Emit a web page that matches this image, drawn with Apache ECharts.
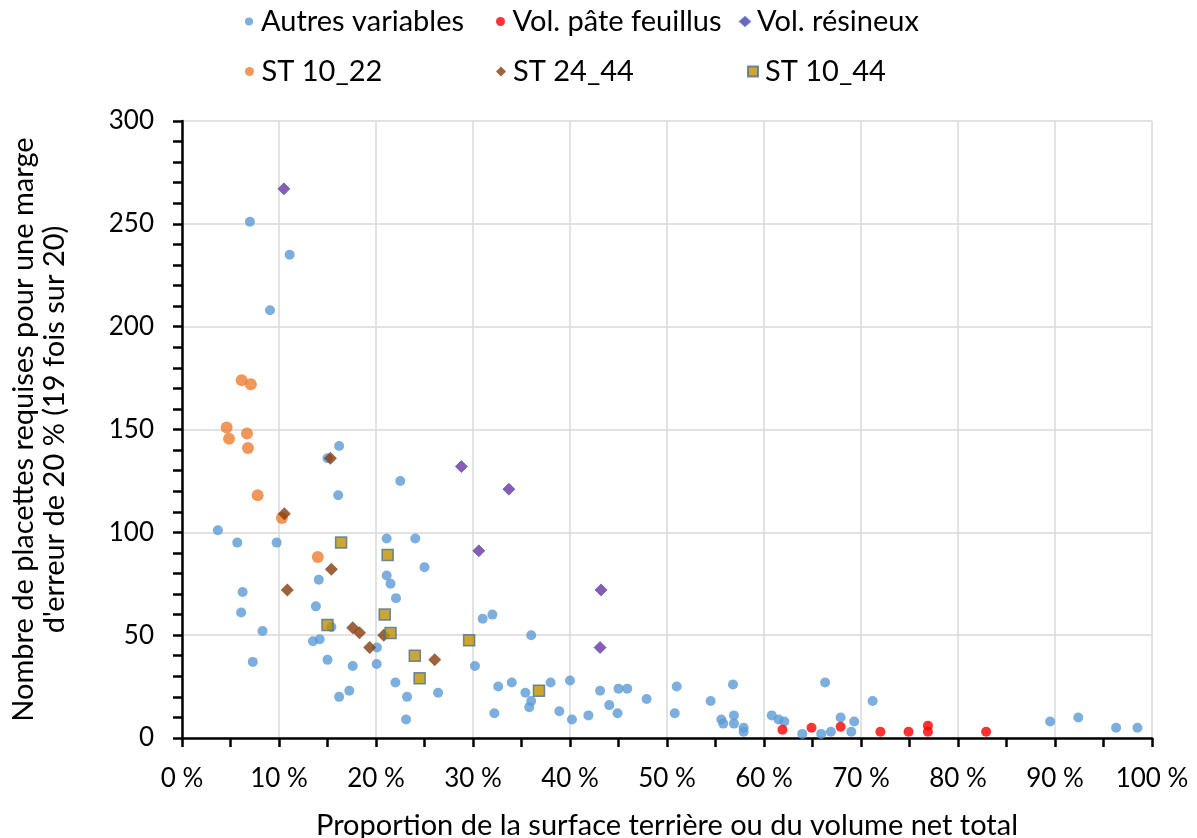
<!DOCTYPE html>
<html>
<head>
<meta charset="utf-8">
<script src="https://cdn.jsdelivr.net/npm/echarts@6/dist/echarts.min.js"></script>
<style>
html,body{margin:0;padding:0;background:#fff;}
#chart{width:1197px;height:838px;}
</style>
</head>
<body>
<div id="chart"></div>
<script>
var seriesNames = ['Autres variables', 'Vol. pâte feuillus', 'Vol. résineux', 'ST 10_22', 'ST 24_44', 'ST 10_44'];
var xTicks = [0, 10, 20, 30, 40, 50, 60, 70, 80, 90, 100];
var yTicks = [0, 50, 100, 150, 200, 250, 300];

var autresX = [7.0, 11.1, 9.07, 16.2, 15.0, 22.5, 16.1, 3.7, 5.7, 9.76, 21.1, 24.05, 25.0, 14.1, 21.1, 21.5, 22.06, 6.25, 6.1, 13.8, 31.0, 32.0, 15.4, 8.3, 13.5, 14.2, 20.1, 30.2, 7.3, 15.0, 17.6, 20.07, 22.0, 17.25, 16.2, 23.2, 26.4, 23.1, 36.0, 32.6, 34.0, 35.4, 36.0, 35.8, 38.0, 40.0, 32.2, 38.9, 40.2, 41.9, 43.1, 45.0, 45.9, 44.05, 44.9, 47.9, 51.0, 50.8, 54.5, 56.8, 55.6, 55.8, 56.9, 56.9, 57.9, 57.9, 60.8, 61.5, 62.1, 63.95, 65.9, 66.3, 66.9, 67.9, 69.3, 69.0, 71.2, 89.5, 92.4, 96.3, 98.5];
var autresY = [251, 235, 208, 142, 136, 125, 118, 101, 95, 95, 97, 97, 83, 77, 79, 75, 68, 71, 61, 64, 58, 60, 54, 52, 47, 48, 44, 35, 37, 38, 35, 36, 27, 23, 20, 20, 22, 9, 50, 25, 27, 22, 18, 15, 27, 28, 12, 13, 9, 11, 23, 24, 24, 16, 12, 19, 25, 12, 18, 26, 9, 7, 11, 7, 5, 3, 11, 9, 8, 2, 2, 27, 3, 10, 8, 3, 18, 8, 10, 5, 5];

var feuillusX = [61.9, 64.9, 67.9, 72.0, 74.9, 76.9, 76.9, 82.9];
var feuillusY = [4, 5, 5.5, 3, 3, 6, 3, 3];

var resineuxX = [10.5, 28.8, 33.7, 30.6, 43.2, 43.1];
var resineuxY = [267, 132, 121, 91, 72, 44];

var st1022X = [6.15, 7.1, 4.6, 6.7, 4.85, 6.8, 7.8, 10.3, 14.0];
var st1022Y = [174, 172, 151, 148, 145.5, 141, 118, 107, 88];

var st2444X = [15.3, 10.55, 15.4, 10.86, 17.6, 18.3, 20.8, 19.35, 26.05];
var st2444Y = [136, 109, 82, 72, 53.6, 51.2, 50, 44, 38];

var st1044X = [16.4, 21.2, 20.9, 15.0, 21.5, 29.6, 24.0, 24.5, 36.8];
var st1044Y = [95, 89, 60, 55, 51, 47.5, 40, 29, 23];

function pairs(xs, ys) { return xs.map(function (x, i) { return [x, ys[i]]; }); }

var FONT = 'Lato';
var TXT = 29;
var chart = echarts.init(document.getElementById('chart'));

var styles = [
  { symbol: 'circle', symbolSize: 10, itemStyle: { color: '#5b9bd5' } },
  { symbol: 'circle', symbolSize: 10, itemStyle: { color: '#ff0000' } },
  { symbol: 'diamond', symbolSize: 12, itemStyle: { color: '#7030a0', borderColor: '#4472c4', borderWidth: 1 } },
  { symbol: 'circle', symbolSize: 12, itemStyle: { color: '#ed7d31' } },
  { symbol: 'diamond', symbolSize: 13, itemStyle: { color: '#843c0c' } },
  { symbol: 'rect', symbolSize: 11, itemStyle: { color: '#bf9000', borderColor: '#4f6f8f', borderWidth: 1.5 } }
];
var dataSets = [
  pairs(autresX, autresY), pairs(feuillusX, feuillusY), pairs(resineuxX, resineuxY),
  pairs(st1022X, st1022Y), pairs(st2444X, st2444Y), pairs(st1044X, st1044Y)
];

var legendPos = [
  { left: 240, top: 2 }, { left: 491, top: 2 }, { left: 734, top: 2 },
  { left: 240, top: 52 }, { left: 491, top: 52 }, { left: 742, top: 52 }
];
var legendSizes = [8, 9, 9, 9, 10, 10];

var legends = seriesNames.map(function (n, i) {
  return {
    data: [n],
    left: legendPos[i].left,
    top: legendPos[i].top,
    itemWidth: 10,
    itemHeight: legendSizes[i],
    selectedMode: false,
    textStyle: { fontFamily: FONT, fontSize: TXT, color: '#000', padding: [0, 0, 0, 2] }
  };
});

var series = seriesNames.map(function (n, i) {
  return {
    name: n,
    type: 'scatter',
    data: dataSets[i],
    symbol: styles[i].symbol,
    symbolSize: styles[i].symbolSize,
    itemStyle: styles[i].itemStyle,
    emphasis: { disabled: true },
    animation: false
  };
});

chart.setOption({
  animation: false,
  textStyle: { fontFamily: FONT },
  legend: legends,
  grid: { left: 182, right: 45, top: 121, bottom: 100, containLabel: false, outerBoundsMode: 'none' },
  xAxis: {
    type: 'value',
    min: xTicks[0], max: xTicks[xTicks.length - 1], interval: 10,
    axisLine: { lineStyle: { color: '#000', width: 2.5 } },
    axisTick: { show: true, length: 9, lineStyle: { color: '#000', width: 2.5 } },
    minorTick: { show: true, splitNumber: 2, length: 9, lineStyle: { color: '#000', width: 2.5 } },
    splitLine: { show: true, lineStyle: { color: '#d9d9d9', width: 1.5 } },
    axisLabel: { fontFamily: FONT, fontSize: 26, color: '#000', margin: 28, formatter: function (v) { return v + ' %'; } },
    name: 'Proportion de la surface terrière ou du volume net total',
    nameLocation: 'middle',
    nameGap: 73,
    nameTextStyle: { fontFamily: FONT, fontSize: TXT, color: '#000' }
  },
  yAxis: {
    type: 'value',
    min: yTicks[0], max: yTicks[yTicks.length - 1], interval: 50,
    axisLine: { show: true, lineStyle: { color: '#000', width: 2.5 } },
    axisTick: { show: true, length: 9, lineStyle: { color: '#000', width: 2.5 } },
    minorTick: { show: true, splitNumber: 5, length: 9, lineStyle: { color: '#000', width: 2.5 } },
    splitLine: { show: true, lineStyle: { color: '#d9d9d9', width: 1.5 } },
    axisLabel: { fontFamily: FONT, fontSize: 26, color: '#000', margin: 28 },
    name: 'Nombre de placettes requises pour une marge\nd\'erreur de 20 % (19 fois sur 20)',
    nameLocation: 'middle',
    nameRotate: 90,
    nameGap: 112,
    nameTextStyle: { fontFamily: FONT, fontSize: TXT, color: '#000', lineHeight: 31, align: 'center' }
  },
  series: series
});
</script>
</body>
</html>
